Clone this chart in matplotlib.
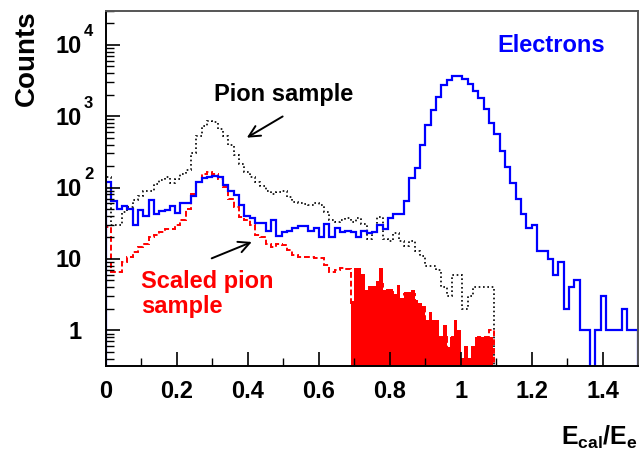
import numpy as np
import matplotlib
matplotlib.use('Agg')
import matplotlib.pyplot as plt
from matplotlib.ticker import FixedLocator, LogLocator, NullFormatter

plt.rcParams['font.family'] = 'Liberation Sans'
plt.rcParams['font.weight'] = 'bold'
plt.rcParams['mathtext.fontset'] = 'custom'
plt.rcParams['mathtext.bf'] = 'Liberation Sans:bold'
plt.rcParams['mathtext.rm'] = 'Liberation Sans:bold'
plt.rcParams['mathtext.default'] = 'bf'

# histogram binning: 100 bins over 0 - 1.5
bin_edges = np.linspace(0, 1.5, 101)

# electron sample (blue)
electrons = [120, 65, 50, 55, 50, 30, 48, 40, 68, 42,
             47, 49, 56, 44, 60, 60, 76, 121, 137, 141,
             145, 140, 110, 90, 78, 57, 40, 38, 32, 32,
             25, 35, 21, 24, 25, 27, 29, 29, 25, 27,
             20, 31, 20, 27, 24, 25, 24, 20, 25, 23,
             24, 30, 26, 38, 42, 43, 65, 137, 188, 390,
             759, 1204, 1850, 2692, 3235, 3640, 3640, 3268, 2843, 2245,
             1791, 1244, 809, 556, 325, 194, 116, 70, 43, 27,
             30, 13, 13, 10, 6, 9, 2, 4, 5, 1,
             1, 0, 1, 3, 1, 1, 1, 2, 1, 1]

# pion sample (black dotted), bins 0..72
pions = [140, 30, 30, 46, 54, 68, 75, 90, 89, 111,
         126, 141, 114, 133, 157, 175, 300, 520, 720, 860,
         840, 670, 525, 400, 290, 216, 165, 140, 120, 105,
         90, 82, 87, 90, 74, 62, 60, 58, 57, 60,
         57, 46, 35, 33, 35, 37, 33, 37, 31, 19,
         24, 39, 19, 18, 23, 18, 15, 18, 13, 11,
         8, 8, 7, 4, 3, 6, 6, 2, 3, 4,
         4, 4, 4]

# scaled pion sample (red dashed), bins 0..72
scaled = [28, 6.5, 6.5, 9.1, 10.7, 12.6, 14.8, 16.4, 20.4, 21.5,
          24, 26.7, 26.7, 29.7, 34.9, 50.8, 82, 120, 157, 165,
          157, 133, 102, 70, 54, 39, 35, 30, 21.5, 20.4,
          16.4, 14.8, 16.4, 15.6, 13.3, 11.3, 10.5, 10.5, 10.5, 10.4,
          10.2, 8.2, 6.6, 7.0, 7.4, 7.2, 2.4, 6, 3.5, 3.5,
          4, 4.5, 3.5, 3.5, 3, 2.7, 3.2, 3.2, 2.3, 2.1,
          1.3, 1.3, 0.8, 0.8, 0.55, 0.8, 0.4, 0.4, 0.4, 0.6,
          0.8, 0.8, 1.0]

# filled scaled pion histogram, 0.01 bins over 0.69 - 1.09
fill_edges = np.linspace(0.69, 1.09, 41)
fill_vals = [2.6, 7.4, 7.4, 6.1, 3.7, 4.2, 4.2, 4.9, 7.5, 3.7,
             3.8, 3.8, 3.2, 4.3, 2.8, 3.4, 3.4, 3.7, 2.65, 2.4,
             2.2, 1.4, 1.8, 1.4, 1.4, 0.81, 1.19, 0.59, 0.81, 1.4,
             1.0, 0.41, 0.61, 0.41, 0.61, 0.81, 0.81, 0.81, 0.81, 0.81]

x_ticks = [0, 0.2, 0.4, 0.6, 0.8, 1.0, 1.2, 1.4]
x_labels = ['0', '0.2', '0.4', '0.6', '0.8', '1', '1.2', '1.4']

fig = plt.figure(figsize=(6.39, 4.57), dpi=100)
ax = fig.add_axes([0.1659, 0.1998, 0.8326, 0.7768])
ax.set_yscale('log', nonpositive='clip')

ax.stairs(pions, bin_edges[:len(pions) + 1], baseline=1e-3,
          color='black', lw=1.2, linestyle=(0, (1, 1.6)))
ax.stairs(scaled, bin_edges[:len(scaled) + 1], baseline=1e-3,
          color='#ff0000', lw=1.4, linestyle=(0, (3, 1.5)))
ax.stairs(fill_vals, fill_edges, baseline=1e-3, fill=True,
          color='#ff0000', lw=0)
ax.stairs(electrons, bin_edges, baseline=1e-3,
          color='#0000ff', lw=1.6)

ax.set_xlim(0, 1.5)
ax.set_ylim(0.32, 3e4)

# ticks, ROOT style (inside)
ax.xaxis.set_major_locator(FixedLocator(x_ticks))
ax.set_xticklabels(x_labels)
ax.xaxis.set_minor_locator(FixedLocator(np.arange(0.1, 1.5, 0.2)))
ax.tick_params(axis='x', which='major', direction='in', length=10, width=1.2,
               labelsize=17, pad=10)
ax.tick_params(axis='x', which='minor', direction='in', length=6, width=1)
ax.yaxis.set_major_locator(LogLocator(base=10, numticks=10))
ax.yaxis.set_minor_locator(LogLocator(base=10, subs=np.arange(2, 10), numticks=20))
ax.yaxis.set_minor_formatter(NullFormatter())
ax.yaxis.set_major_formatter(NullFormatter())
ax.tick_params(axis='y', which='major', direction='in', length=10, width=1.2)
ax.tick_params(axis='y', which='minor', direction='in', length=6, width=1)

# y labels as in the original: base plus superscript
for d in range(5):
    base = '1' if d == 0 else '10'
    ax.annotate(base, xy=(0, 10 ** d), xycoords=('axes fraction', 'data'),
                xytext=(-24, -2), textcoords='offset pixels',
                ha='right', va='center', fontsize=17, fontweight='bold')
    if d >= 2:
        ax.annotate(str(d), xy=(0, 10 ** d), xycoords=('axes fraction', 'data'),
                    xytext=(-22, 13), textcoords='offset pixels',
                    ha='left', va='center', fontsize=12, fontweight='bold')

for side in ['left', 'bottom']:
    ax.spines[side].set_linewidth(1.4)
for side in ['top', 'right']:
    ax.spines[side].set_linewidth(1.4)
    ax.spines[side].set_color('#555555')

ax.set_ylabel('Counts', fontsize=20, fontweight='bold', loc='top')
ax.yaxis.set_label_coords(-0.125, 1.0)
ax.set_xlabel(r'$E_{cal}/E_{e}$', fontsize=18, loc='right')
ax.xaxis.set_label_coords(1.0, -0.165)

ax.text(1.256, 9800, 'Electrons', color='#0000ff', fontsize=17,
        fontweight='bold', ha='center', va='center')
ax.text(0.502, 2000, 'Pion sample', color='black', fontsize=17,
        fontweight='bold', ha='center', va='center')
ax.text(0.1, 3.2, 'Scaled pion\nsample', color='#ff0000', fontsize=17,
        fontweight='bold', ha='left', va='center', linespacing=1.1)

ax.annotate('', xy=(0.397, 500), xytext=(0.498, 990),
            arrowprops=dict(arrowstyle='->', color='black', lw=1.4,
                            mutation_scale=20, shrinkA=0, shrinkB=0))
ax.annotate('', xy=(0.411, 17.3), xytext=(0.298, 10.2),
            arrowprops=dict(arrowstyle='->', color='black', lw=1.4,
                            mutation_scale=20, shrinkA=0, shrinkB=0))

fig.savefig('out.png', dpi=100)
